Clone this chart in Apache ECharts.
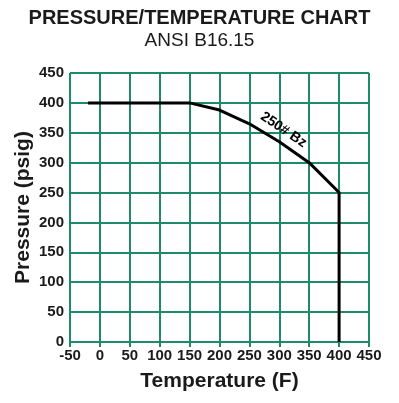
<!DOCTYPE html>
<html>
<head>
<meta charset="utf-8">
<script src="https://cdn.jsdelivr.net/npm/echarts@6/dist/echarts.min.js"></script>
<style>
  html, body { margin: 0; padding: 0; background: #fff; }
  #chart { width: 399px; height: 403px; }
</style>
</head>
<body>
<div id="chart"></div>
<script>
// rating curve for 250# bronze
const temps = [-20, 150, 200, 250, 300, 350, 400, 400];
const pressures = [400, 400, 388, 365, 335, 300, 250, 0];
const curveLabel = "250# Bz";
const labelAt = [307, 355];

const gridColor = "#1f8a6a";
const font = "'Liberation Sans', Arial, sans-serif";

const chart = echarts.init(document.getElementById("chart"));

chart.setOption({
  animation: false,
  title: {
    text: "PRESSURE/TEMPERATURE CHART",
    subtext: "ANSI B16.15",
    left: "center",
    top: 3,
    itemGap: 3,
    textStyle: { fontFamily: font, fontSize: 20, fontWeight: "bold", color: "#1a1a1a" },
    subtextStyle: { fontFamily: font, fontSize: 19, color: "#1a1a1a" },
  },
  grid: { left: 70, right: 30, top: 73, bottom: 61 },
  xAxis: {
    type: "value",
    min: -50,
    max: 450,
    interval: 50,
    name: "Temperature (F)",
    nameLocation: "middle",
    nameGap: 29,
    nameTextStyle: { fontFamily: font, fontSize: 21, fontWeight: "bold", color: "#1a1a1a" },
    axisLine: { lineStyle: { color: gridColor, width: 2 } },
    axisTick: { show: true, length: 5, lineStyle: { color: gridColor, width: 2 } },
    axisLabel: { fontFamily: font, fontSize: 15, fontWeight: "bold", color: "#1a1a1a", margin: 6 },
    splitLine: { lineStyle: { color: gridColor, width: 2 } },
  },
  yAxis: {
    type: "value",
    min: 0,
    max: 450,
    interval: 50,
    name: "Pressure (psig)",
    nameLocation: "middle",
    nameGap: 36,
    nameMoveOverlap: false,
    nameTextStyle: { fontFamily: font, fontSize: 21, fontWeight: "bold", color: "#1a1a1a" },
    axisLine: { show: true, lineStyle: { color: gridColor, width: 2 } },
    axisTick: { show: true, length: 5, lineStyle: { color: gridColor, width: 2 } },
    axisLabel: { fontFamily: font, fontSize: 15, fontWeight: "bold", color: "#1a1a1a", margin: 6 },
    splitLine: { lineStyle: { color: gridColor, width: 2 } },
  },
  series: [
    {
      type: "line",
      data: temps.map((t, i) => [t, pressures[i]]),
      symbol: "none",
      lineStyle: { color: "#000", width: 3 },
      markPoint: {
        symbol: "circle",
        symbolSize: 0,
        data: [{ coord: labelAt }],
        label: {
          show: true,
          formatter: curveLabel,
          position: "inside",
          rotate: -34,
          fontFamily: font,
          fontSize: 14,
          fontWeight: "bold",
          color: "#000",
        },
      },
    },
  ],
});
</script>
</body>
</html>
